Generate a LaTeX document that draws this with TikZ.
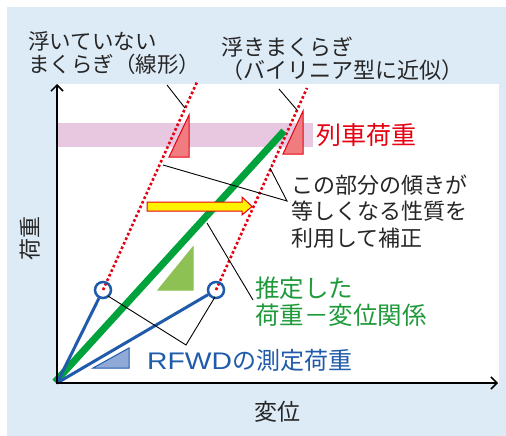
\documentclass[tikz,border=0pt]{standalone}
\usepackage{fontspec}
\newfontfamily\jp{Noto Sans CJK JP}
\newfontfamily\latwide[FakeStretch=1.18]{Liberation Sans}
\usetikzlibrary{arrows.meta}
\definecolor{bgblue}{HTML}{DDEBF7}
\definecolor{bandpink}{HTML}{E8C8E0}
\definecolor{lgreen}{HTML}{00A23C}
\definecolor{tgreen}{HTML}{1E9A3A}
\definecolor{dblue}{HTML}{1F5BAA}
\definecolor{tred}{HTML}{E60012}
\definecolor{trifillred}{HTML}{F07C80}
\definecolor{trifillgreen}{HTML}{8DC153}
\definecolor{trifillblue}{HTML}{8FAAD6}
\tikzset{
  lbl/.style={font=\jp\fontsize{22}{22.5}\selectfont, align=left, inner sep=0pt, anchor=west, text=black!85},
  leader/.style={draw=black, line width=0.9pt},
  reddot/.style={draw=tred, line width=2.6pt, dash pattern=on 2.6pt off 2.4pt},
  axis/.style={draw=black, line width=1.5pt, -{Straight Barb[length=6pt,width=12pt]}},
  trired/.style={fill=trifillred, draw=tred, line width=1pt},
  trigreen/.style={fill=trifillgreen, draw=trifillgreen, line width=1pt},
  triblue/.style={fill=trifillblue, draw=dblue, line width=1pt},
  bluemeas/.style={draw=dblue, line width=3pt},
  ring/.style={circle, draw=dblue, line width=2.5pt, minimum size=16pt, inner sep=0pt}
}
\begin{document}
\begin{tikzpicture}[x=1pt,y=-1pt]
\useasboundingbox (0,0) rectangle (506,436);
\fill[bgblue] (7,7) rectangle (506,436);
\fill[white] (57,84) rectangle (499,383);
% pink band
\fill[bandpink] (57,123) rectangle (313,147);
% key coordinates
\coordinate (O) at (57,383);
\coordinate (G0) at (55,382);
\coordinate (G1) at (284,131);
\coordinate (L0) at (103,290);
\coordinate (L1) at (197,82);
\coordinate (R0) at (216,290);
\coordinate (R1) at (307,88);
\coordinate (YT) at (57,84);
\coordinate (XT) at (498,383);
% triangles
\draw[trired] (169,157) -- (189,157) -- (189,115) -- cycle;
\draw[trired] (283,154) -- (303,154) -- (303,111) -- cycle;
\draw[trigreen] (158,290) -- (193,290) -- (193,247) -- cycle;
\draw[triblue] (93,368) -- (129,368) -- (129,348) -- cycle;
% red dotted lines
\draw[reddot] (L0) -- (L1);
\draw[reddot] (R0) -- (R1);
% green estimated line
\draw[lgreen, line width=7pt] (G0) -- (G1);
% yellow arrow
\draw[fill=yellow, draw=tred, line width=1pt]
  (147,202) -- (242,202) -- (242,197) -- (252,206.5) -- (242,215) -- (242,211) -- (147,211) -- cycle;
% blue measured lines
\node[ring] (cL) at (L0) {};
\node[ring] (cR) at (R0) {};
\draw[bluemeas] (O) -- (cL);
\draw[bluemeas] (O) -- (cR);
% axes
\draw[axis] (O) -- (YT);
\draw[axis] ([xshift=-0.75pt]O) -- (XT);
% texts
\node[lbl, font=\jp\fontsize{21.5}{22.5}\selectfont] (tA) at (28,53) {浮いていない\\まくらぎ（線形）};
\node[lbl] (tB) at (221,59) {浮きまくらぎ\\（バイリニア型に近似）};
\node[lbl, font=\jp\fontsize{25}{26}\selectfont, text=tred] (tRes) at (316,135) {列車荷重};
\node[lbl, font=\jp\fontsize{22}{26.5}\selectfont] (tC) at (291,211.5) {この部分の傾きが\\等しくなる性質を\\利用して補正};
\node[lbl, font=\jp\fontsize{24.5}{27}\selectfont, text=tgreen] (tD) at (255,301.5) {推定した\\荷重－変位関係};
\node[lbl, font=\jp\fontsize{24}{26}\selectfont, text=dblue] (tE) at (147,360) {{\latwide RFWD}の測定荷重};
\node[font=\jp\fontsize{22}{24}\selectfont, rotate=90, inner sep=0pt, text=black!85] (tY) at (30,238) {荷重};
\node[font=\jp\fontsize{23}{25}\selectfont, inner sep=0pt, text=black!85] (tX) at (277,412) {変位};
% leader coordinates
\coordinate (aA) at (167,85);
\coordinate (bA) at (185,108);
\coordinate (aB) at (279,89);
\coordinate (bB) at (297,110);
\coordinate (apC) at (287,201);
\coordinate (c1) at (163,165);
\coordinate (c2) at (270,168);
\coordinate (aD) at (253,300);
\coordinate (bD) at (207,223);
\coordinate (apE) at (186,345);
\coordinate (e1) at (108,296);
\coordinate (e2) at (215,297);
\draw[leader] (aA) -- (bA);
\draw[leader] (aB) -- (bB);
\draw[leader] (c1) -- (apC) -- (c2);
\draw[leader] (aD) -- (bD);
\draw[leader] (e1) -- (apE) -- (e2);
\end{tikzpicture}
\end{document}
